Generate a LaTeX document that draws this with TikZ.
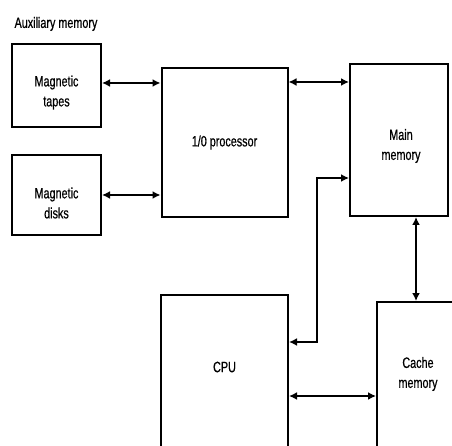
\documentclass[tikz,border=0pt]{standalone}
\usepackage{fontspec}
\setmainfont[FakeStretch=0.72,FakeBold=0.6]{Liberation Sans}
\usetikzlibrary{arrows.meta,positioning}

\begin{document}
\begin{tikzpicture}[x=1pt,y=-1pt,
    every node/.style={font=\fontsize{15}{20}\selectfont, align=center},
    unit/.style={draw, line width=2pt, inner sep=0pt},
    link/.style={line width=2pt, {Latex[length=8pt,width=8pt]}-{Latex[length=8pt,width=8pt]}}]
  \useasboundingbox (0,0) rectangle (452,446);
  \clip (0,0) rectangle (452,446);
  % auxiliary memory group
  \node (auxlabel) at (56,24) {Auxiliary memory};
  \node[unit, minimum width=89, minimum height=83,
    label={[yshift=-7pt]center:Magnetic\\tapes}] (tapes) at (56.5,85.5) {};
  \node[unit, minimum width=89, minimum height=80,
    label={[yshift=-8pt]center:Magnetic\\disks}] (disks) at (56.5,195) {};
  % processors and memories
  \node[unit, minimum width=126, minimum height=149] (iop) at (224.5,142.5) {1/0 processor};
  \node[unit, minimum width=98, minimum height=152,
    label={[yshift=-6pt,xshift=2pt]center:Main\\memory}] (mainmem) at (399,140) {};
  \node[unit, minimum width=127, minimum height=156,
    label={[yshift=6pt]center:CPU}] (cpu) at (224.5,373) {};
  \node[unit, minimum width=82, minimum height=150,
    label={[yshift=3pt]center:Cache\\memory}] (cache) at (418,377) {};
  % connections
  \draw[link] (tapes.east |- 0,83) -- (iop.west |- 0,83);
  \draw[link] (disks.east) -- (disks.east -| iop.west);
  \draw[link] ([yshift=-15pt]iop.north east) -- ([yshift=-15pt]iop.north east -| mainmem.west);
  \draw[link] ([yshift=39pt]mainmem.south west) -- ++(-32,0) |- ([yshift=-48pt]cpu.north east);
  \draw[link] ([xshift=17pt]mainmem.south) -- ([xshift=17pt]mainmem.south |- cache.north);
  \draw[link] ([yshift=-102pt]cpu.north east) -- ([yshift=-102pt]cpu.north east -| cache.west);
\end{tikzpicture}
\end{document}
